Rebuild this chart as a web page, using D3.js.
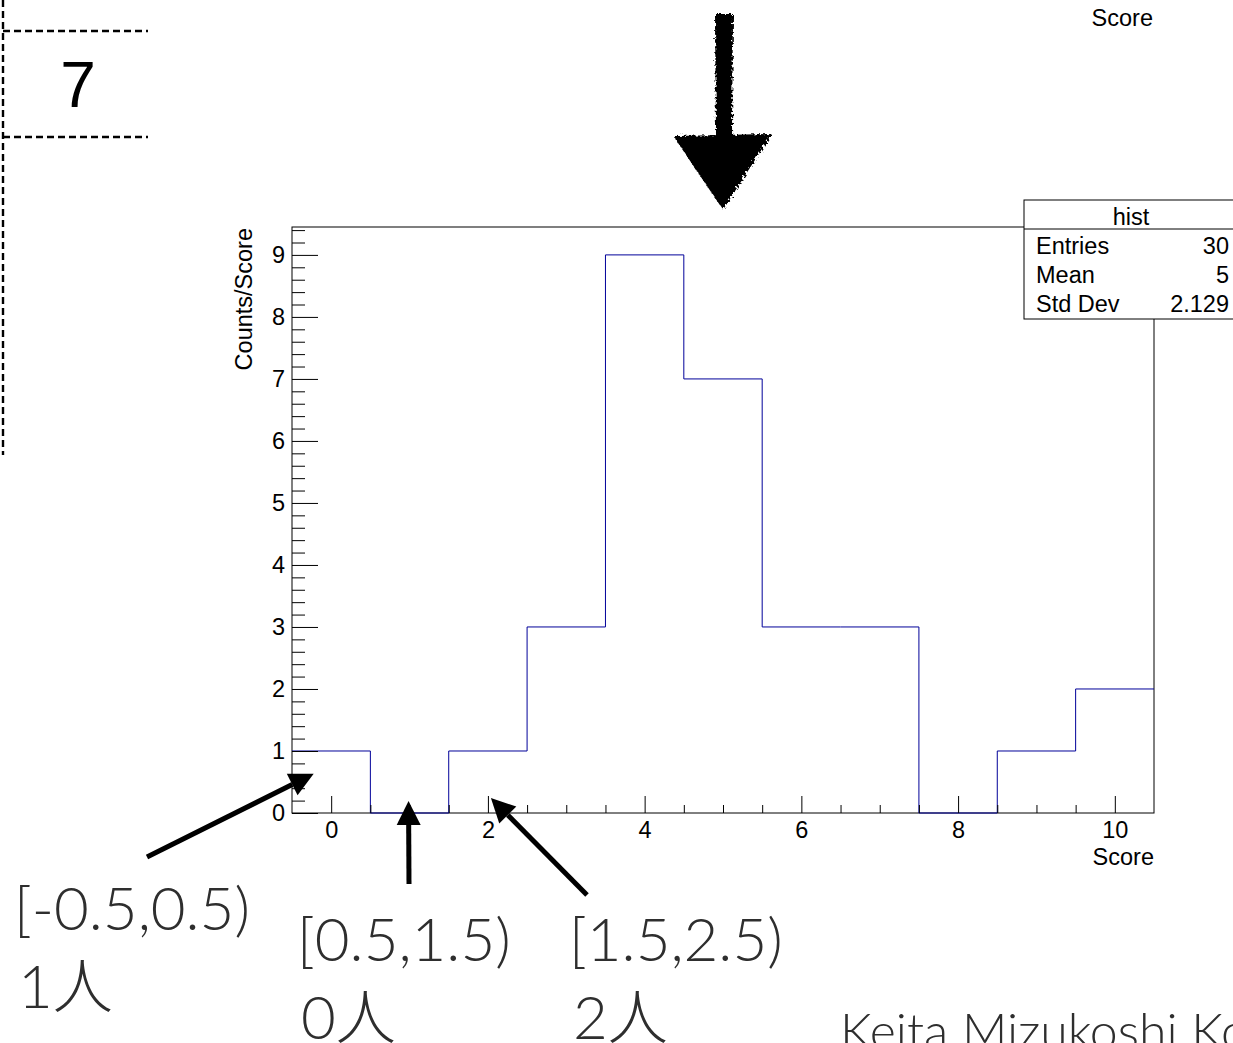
<!DOCTYPE html>
<html><head><meta charset="utf-8">
<script src="https://cdn.jsdelivr.net/npm/d3@7/dist/d3.min.js"></script>
<style>
html,body{margin:0;padding:0;background:#fff;}
svg{display:block;}
</style></head>
<body>
<svg id="c" width="1233" height="1043"></svg>
<script>
// ---- data ----
const binCenters = [0,1,2,3,4,5,6,7,8,9,10];
const counts = [1,0,1,3,9,7,3,3,0,1,2];
const xMajorTicks = [0,2,4,6,8,10];
const yMajorTicks = [0,1,2,3,4,5,6,7,8,9];
const statsLabels = ["Entries","Mean","Std Dev"];
const statsValues = ["30","5","2.129"];
const annoTexts = [["[-0.5,0.5)","1人"],["[0.5,1.5)","0人"],["[1.5,2.5)","2人"]];
const annoTargets = [[-0.5+0.2,0.6],[1,0],[2,0]];

const svg = d3.select("#c");
const ROOT_FONT = "'Liberation Sans', Arial, Helvetica, sans-serif";
const THIN_FONT = "Lato, 'Noto Sans CJK JP', sans-serif";
const FS = 23.5;

const x = d3.scaleLinear().domain([-0.5,10.5]).range([292,1154]);
const y = d3.scaleLinear().domain([0,9.45]).range([813,227]);

// --- top-left dashed fragment ---
const frag = svg.append("g").attr("stroke","#000").attr("stroke-width",2.4);
frag.append("line").attr("x1",3).attr("x2",3).attr("y1",0).attr("y2",455).attr("stroke-dasharray","7,4");
frag.append("line").attr("x1",3).attr("x2",148).attr("y1",31).attr("y2",31).attr("stroke-dasharray","7,4");
frag.append("line").attr("x1",3).attr("x2",148).attr("y1",137).attr("y2",137).attr("stroke-dasharray","7,4");
svg.append("text").attr("x",78).attr("y",107).attr("text-anchor","middle")
  .attr("font-family",ROOT_FONT).attr("font-size",64).attr("fill","#000").text("7");

// top "Score" fragment from previous plot
svg.append("text").attr("x",1153).attr("y",26).attr("text-anchor","end")
  .attr("font-family",ROOT_FONT).attr("font-size",FS).text("Score");

// --- scribbled arrow at top ---
const defs = svg.append("defs");
const f = defs.append("filter").attr("id","rough").attr("x","-20%").attr("y","-20%").attr("width","140%").attr("height","140%");
f.append("feTurbulence").attr("type","fractalNoise").attr("baseFrequency",0.4).attr("numOctaves",2).attr("seed",3).attr("result","n");
f.append("feDisplacementMap").attr("in","SourceGraphic").attr("in2","n").attr("scale",6);
const ga = svg.append("g").attr("filter","url(#rough)");
ga.append("path").attr("d","M715,14 L733,14 L732,136 L716,136 Z").attr("fill","#000");
ga.append("path").attr("d","M677,138 L768,136 L723,206 Z").attr("fill","#000").attr("stroke","#000").attr("stroke-width",4);

// --- plot frame ---
svg.append("rect").attr("x",x(-0.5)).attr("y",y(9.45)).attr("width",x(10.5)-x(-0.5)).attr("height",y(0)-y(9.45))
  .attr("fill","none").attr("stroke","#000").attr("stroke-width",1);

// histogram
const pts = binCenters.map((c,i)=>[c-0.5,counts[i]]);
pts.push([binCenters[binCenters.length-1]+0.5, counts[counts.length-1]]);
const line = d3.line().x(d=>x(d[0])).y(d=>y(d[1])).curve(d3.curveStepAfter);
svg.append("path").attr("d",line(pts)).attr("fill","none").attr("stroke","#000099").attr("stroke-width",1);

// y axis
const yMinor = d3.range(0,9.45,0.2).filter(v=>Math.abs(v-Math.round(v))>1e-6);
svg.append("g").attr("transform",`translate(${x(-0.5)},0)`)
  .call(d3.axisLeft(y).tickValues(yMinor).tickSize(-13).tickFormat(""))
  .call(g=>{g.select(".domain").remove();g.selectAll("line").attr("stroke","#000");});
svg.append("g").attr("transform",`translate(${x(-0.5)},0)`)
  .call(d3.axisLeft(y).tickValues(yMajorTicks).tickSize(-26).tickPadding(7).tickFormat(d3.format("d")))
  .call(g=>{g.select(".domain").remove();g.selectAll("line").attr("stroke","#000");
    g.selectAll("text").attr("font-family",ROOT_FONT).attr("font-size",FS).attr("fill","#000");});

// x axis
const xMinor = d3.range(0.5,10.5,0.5).filter(v=>Math.abs(v/2-Math.round(v/2))>1e-6);
svg.append("g").attr("transform",`translate(0,${y(0)})`)
  .call(d3.axisBottom(x).tickValues(xMinor).tickSize(-8).tickFormat(""))
  .call(g=>{g.select(".domain").remove();g.selectAll("line").attr("stroke","#000");});
svg.append("g").attr("transform",`translate(0,${y(0)})`)
  .call(d3.axisBottom(x).tickValues(xMajorTicks).tickSize(-17).tickPadding(8).tickFormat(d3.format("d")))
  .call(g=>{g.select(".domain").remove();g.selectAll("line").attr("stroke","#000");
    g.selectAll("text").attr("font-family",ROOT_FONT).attr("font-size",FS).attr("fill","#000");});

// axis titles
svg.append("text").attr("x",x(10.5)).attr("y",865).attr("text-anchor","end")
  .attr("font-family",ROOT_FONT).attr("font-size",FS).text("Score");
svg.append("text").attr("transform",`translate(252,${y(9.45)+1}) rotate(-90)`).attr("text-anchor","end")
  .attr("font-family",ROOT_FONT).attr("font-size",FS).text("Counts/Score");

// stats box
const sb = svg.append("g");
sb.append("rect").attr("x",1024).attr("y",200).attr("width",220).attr("height",119)
  .attr("fill","#fff").attr("stroke","#000").attr("stroke-width",1);
sb.append("line").attr("x1",1024).attr("x2",1240).attr("y1",229).attr("y2",229).attr("stroke","#000");
sb.append("text").attr("x",1131).attr("y",225).attr("text-anchor","middle")
  .attr("font-family",ROOT_FONT).attr("font-size",FS).text("hist");
statsLabels.forEach((l,i)=>{
  sb.append("text").attr("x",1036).attr("y",254+i*29).attr("font-family",ROOT_FONT).attr("font-size",FS).text(l);
  sb.append("text").attr("x",1229).attr("y",254+i*29).attr("text-anchor","end").attr("font-family",ROOT_FONT).attr("font-size",FS).text(statsValues[i]);
});

// annotation arrows
function arrow(x1,y1,x2,y2){
  const ang = Math.atan2(y2-y1,x2-x1);
  const L = 24, W = 12;
  const bx = x2 - L*Math.cos(ang), by = y2 - L*Math.sin(ang);
  svg.append("line").attr("x1",x1).attr("y1",y1).attr("x2",bx).attr("y2",by)
    .attr("stroke","#000").attr("stroke-width",5);
  const px = -Math.sin(ang)*W, py = Math.cos(ang)*W;
  svg.append("path").attr("d",`M${x2},${y2} L${bx+px},${by+py} L${bx-px},${by-py} Z`).attr("fill","#000");
}
arrow(147,857, x(annoTargets[0][0])+6, y(annoTargets[0][1])-2);
arrow(409,884, x(annoTargets[1][0])-1, y(annoTargets[1][1])-12);
arrow(587,895, x(annoTargets[2][0])+3, y(annoTargets[2][1])-15);

// annotation texts
const annoPos = [[14,930,1008],[297,961,1039],[569,961,1039]];
annoTexts.forEach((t,i)=>{
  const [ax,b1,b2] = annoPos[i];
  svg.append("text").attr("x",ax).attr("y",b1).attr("font-family",THIN_FONT).attr("font-weight",300)
    .attr("font-size",60).attr("fill","#2e2e2e").text(t[0]);
  svg.append("text").attr("x",ax+4).attr("y",b2).attr("font-family",THIN_FONT).attr("font-weight",300)
    .attr("font-size",60).attr("fill","#2e2e2e").text(t[1]);
});
svg.append("text").attr("x",840).attr("y",1049).attr("font-family",THIN_FONT).attr("font-weight",300)
  .attr("font-size",50).attr("fill","#2e2e2e").text("Keita Mizukoshi Kobayashi-Maskawa");
</script>
</body></html>
